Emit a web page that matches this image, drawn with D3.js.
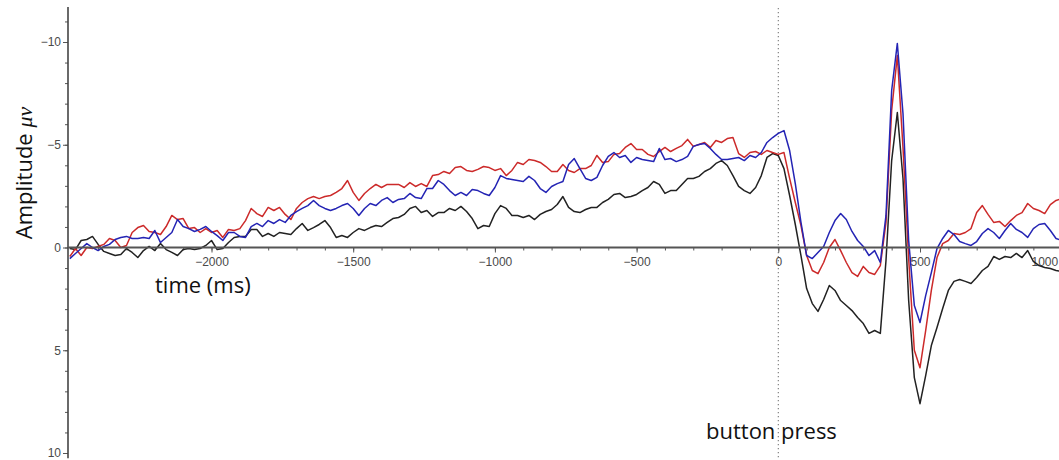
<!DOCTYPE html>
<html>
<head>
<meta charset="utf-8">
<script src="https://cdn.jsdelivr.net/npm/d3@7"></script>
<style>
  html, body { margin: 0; padding: 0; background: #fff; }
  svg { display: block; }
</style>
</head>
<body>
<svg id="chart" width="1059" height="460"></svg>
<script>
// Sample times (ms) relative to the button press, one sample every 20 ms
const times = d3.range(-2500, 1001, 20);

// Averaged amplitudes (µV) for the three conditions
const redSeries = [
  0.44, 0.05, 0.39, 0, 0.05, -0.05, -0.15, -0.44, -0.34, 0,
  -0.10, -0.73, -0.97, -1.07, -0.78, -0.73, -0.63, -1.02, -1.56, -1.36,
  -1.41, -0.92, -0.97, -0.73, -0.92, -0.73, -0.83, -0.49, -0.88, -0.83,
  -0.92, -1.31, -1.90, -1.65, -1.51, -1.95, -1.80, -1.95, -1.61, -1.36,
  -1.90, -2.19, -2.38, -2.48, -2.38, -2.48, -2.53, -2.68, -2.87, -3.26,
  -2.68, -2.29, -2.63, -2.87, -3.07, -2.92, -3.07, -3.07, -3.07, -2.92,
  -3.16, -2.97, -3.11, -2.97, -3.50, -3.55, -3.70, -3.60, -3.89, -3.94,
  -3.75, -3.70, -3.80, -3.94, -3.89, -3.75, -3.84, -3.50, -3.75, -4.14,
  -4.04, -4.28, -4.23, -4.14, -3.94, -3.70, -3.70, -4.04, -3.75, -3.65,
  -3.84, -3.84, -3.99, -4.48, -4.14, -4.18, -4.53, -4.57, -4.87, -5.06,
  -4.77, -4.77, -4.53, -4.43, -4.67, -4.87, -4.67, -4.82, -4.96, -5.26,
  -4.92, -5.01, -5.11, -4.87, -5.21, -5.11, -5.30, -5.35, -4.57, -4.38,
  -4.62, -4.67, -4.53, -4.72, -4.62, -4.53, -4.62, -3.36, -2.19, -1.07,
  0.39, 1.12, 1.27, 0.73, 0, -0.39, 0.15, 0.73, 1.22, 1.41,
  0.92, 1.22, 1.31, 0.88, -1.22, -6.67, -9.34, -4.87, 0.54, 5.00,
  5.85, 4.04, 2.09, 0.49, -0.19, -0.34, -0.68, -0.63, -0.73, -0.92,
  -1.70, -2.04, -1.61, -1.22, -1.27, -1.02, -1.31, -1.56, -1.70, -2.14,
  -1.90, -1.80, -1.65, -2.09, -2.29, -2.38
];

const blueSeries = [
  0.54, 0.29, 0.05, -0.19, 0, 0.15, -0.05, -0.15, -0.39, -0.49,
  -0.54, -0.44, -0.44, -0.49, -0.44, -0.83, -0.24, -0.49, -0.73, -1.36,
  -1.02, -0.92, -0.78, -0.88, -1.02, -0.78, -0.58, -0.34, -0.73, -0.73,
  -0.54, -0.49, -1.02, -1.17, -1.02, -1.31, -1.17, -1.36, -1.22, -1.56,
  -1.75, -1.90, -2.04, -2.29, -2.04, -1.90, -1.80, -1.90, -2.04, -2.14,
  -1.90, -1.56, -1.90, -2.14, -2.04, -2.29, -2.43, -2.19, -2.34, -2.38,
  -2.63, -2.43, -2.38, -2.87, -2.87, -3.26, -3.07, -2.77, -2.53, -2.68,
  -2.53, -2.82, -2.77, -2.63, -2.53, -2.92, -3.50, -3.36, -3.31, -3.26,
  -3.21, -3.46, -3.26, -2.87, -2.68, -2.97, -3.11, -3.21, -4.04, -4.33,
  -3.84, -3.36, -3.26, -3.41, -3.99, -4.43, -4.62, -4.38, -4.48, -4.14,
  -4.38, -4.28, -4.23, -4.18, -4.82, -4.28, -4.33, -4.18, -4.28, -4.43,
  -4.92, -5.01, -5.06, -4.82, -4.53, -4.28, -4.28, -4.33, -4.38, -4.23,
  -4.48, -4.38, -4.62, -5.11, -5.35, -5.55, -5.69, -4.72, -3.11, -1.22,
  0.39, 0.54, 0.24, -0.05, -0.73, -1.31, -1.65, -1.36, -0.78, -0.34,
  -0.05, 0.39, 0.15, 0.73, -1.56, -7.64, -9.93, -6.52, -0.34, 2.82,
  3.65, 2.34, 1.22, 0.05, -0.44, -0.83, -0.63, -0.29, -0.19, -0.10,
  -0.29, -0.68, -0.92, -0.73, -0.44, -0.83, -1.17, -0.88, -0.73, -0.49,
  -0.92, -1.12, -1.17, -0.83, -0.44, -0.34
];

const blackSeries = [
  0.05, 0.10, -0.34, -0.39, -0.54, -0.15, 0.19, 0.29, 0.39, 0.34,
  0.05, 0.24, 0.49, 0.15, -0.05, 0.15, -0.19, 0.10, 0.24, 0.39,
  0.10, 0.05, 0.10, 0.05, -0.10, -0.34, 0.10, 0.05, -0.24, -0.49,
  -0.54, -0.54, -0.88, -0.88, -0.54, -0.68, -0.54, -0.73, -0.68, -0.63,
  -0.92, -1.17, -0.83, -0.97, -1.12, -1.31, -0.97, -0.49, -0.58, -0.49,
  -0.73, -0.92, -0.83, -0.97, -1.07, -1.02, -1.22, -1.41, -1.46, -1.61,
  -1.90, -2.00, -1.70, -1.80, -1.51, -1.70, -1.70, -1.90, -1.80, -2.00,
  -1.75, -1.41, -0.92, -1.07, -1.02, -1.65, -2.04, -1.90, -1.56, -1.56,
  -1.46, -1.56, -1.36, -1.61, -1.75, -1.85, -2.09, -2.48, -1.95, -1.75,
  -1.70, -1.85, -1.95, -1.95, -2.19, -2.34, -2.58, -2.63, -2.43, -2.48,
  -2.58, -2.77, -2.92, -3.21, -3.07, -2.63, -2.77, -2.77, -3.07, -3.36,
  -3.36, -3.46, -3.70, -3.84, -4.09, -4.23, -3.99, -3.50, -2.97, -2.77,
  -2.63, -2.92, -3.50, -4.38, -4.57, -4.48, -3.84, -2.53, -1.12, 0.39,
  2.00, 2.73, 3.11, 2.53, 1.85, 2.09, 2.58, 2.82, 3.07, 3.41,
  3.70, 4.18, 4.04, 4.18, 0.63, -4.23, -6.57, -3.36, 2.58, 6.33,
  7.60, 6.23, 4.77, 3.89, 2.97, 2.09, 1.65, 1.56, 1.65, 1.75,
  1.46, 1.12, 0.92, 0.44, 0.58, 0.44, 0.49, 0.29, 0.49, 0.15,
  0.68, 0.88, 0.97, 1.02, 1.12, 1.17
];

// Axis ticks
const xMajorTicks = [-2000, -1500, -1000, -500, 0, 500, 1000];
const xMinorTicks = d3.range(-2400, 1001, 100);
const yMajorTicks = [-10, -5, 0, 5, 10];
const yMinorTicks = d3.range(-11, 11, 1);

const svg = d3.select("#chart");

// Time axis; negative amplitudes are plotted upward
const x = d3.scaleLinear().domain([-2000, 500]).range([211.5, 920.0]);
const y = d3.scaleLinear().domain([-10, 10]).range([42, 453]);
const axisX = 68;

// Vertical dotted marker at the button press
svg.append("line")
  .attr("x1", x(0)).attr("x2", x(0))
  .attr("y1", 8).attr("y2", 460)
  .attr("stroke", "#777").attr("stroke-width", 1.1)
  .attr("stroke-dasharray", "1.2,2.8");

// Y axis
const gy = svg.append("g").attr("transform", `translate(${axisX},0)`);
gy.call(d3.axisLeft(y).tickValues(yMinorTicks).tickSize(3).tickFormat(""));
gy.call(g => g.select(".domain").remove());
const gyMajor = svg.append("g").attr("transform", `translate(${axisX},0)`)
  .call(d3.axisLeft(y).tickValues(yMajorTicks).tickSize(5).tickPadding(2).tickFormat(d3.format("d")));
gyMajor.select(".domain").remove();
svg.selectAll("g .tick line").attr("stroke", "#555");
gyMajor.selectAll("text")
  .attr("font-family", "Liberation Sans, Arial, sans-serif")
  .attr("font-size", 12).attr("fill", "#4a4a4a");
svg.append("line")
  .attr("x1", axisX).attr("x2", axisX)
  .attr("y1", y(-11.7)).attr("y2", y(10.25))
  .attr("stroke", "#444").attr("stroke-width", 1.6);

// X axis along the zero line
const gx = svg.append("g").attr("transform", `translate(0,${y(0)})`);
gx.call(d3.axisBottom(x).tickValues(xMinorTicks).tickSize(3).tickFormat(""));
gx.select(".domain").remove();
const gxMajor = svg.append("g").attr("transform", `translate(0,${y(0)})`)
  .call(d3.axisBottom(x).tickValues(xMajorTicks).tickSize(5).tickPadding(5).tickFormat(d3.format("d")));
gxMajor.select(".domain").remove();
svg.selectAll("g .tick line").attr("stroke", "#555");
gxMajor.selectAll("text")
  .attr("font-family", "Liberation Sans, Arial, sans-serif")
  .attr("font-size", 12).attr("fill", "#4a4a4a");
// The last label sits at the right edge, so it is aligned to end inside the frame
gxMajor.selectAll(".tick").filter(d => d === 1000).select("text")
  .attr("text-anchor", "end").attr("dx", "-4");

// Traces
const line = d3.line()
  .x((d, i) => x(times[i]))
  .y(d => y(d));

const traces = [
  { values: blackSeries, color: "#222222" },
  { values: redSeries, color: "#cc2a2a" },
  { values: blueSeries, color: "#2424b4" }
];
svg.append("g").selectAll("path")
  .data(traces)
  .join("path")
  .attr("d", d => line(d.values))
  .attr("fill", "none")
  .attr("stroke", d => d.color)
  .attr("stroke-width", 1.5)
  .attr("stroke-linejoin", "round");

// Zero line drawn over the traces
svg.append("line")
  .attr("x1", axisX).attr("x2", 1059)
  .attr("y1", y(0)).attr("y2", y(0))
  .attr("stroke", "#555").attr("stroke-width", 1.8);

// Titles
const amp = svg.append("text")
  .attr("transform", "translate(32,173) rotate(-90)")
  .attr("text-anchor", "middle")
  .attr("font-family", "Open Sans, sans-serif")
  .attr("font-size", 22)
  .attr("fill", "#111");
amp.append("tspan").text("Amplitude ");
amp.append("tspan")
  .attr("font-family", "Liberation Serif, serif")
  .attr("font-style", "italic")
  .text("μv");

svg.append("text")
  .attr("x", 155).attr("y", 293)
  .attr("font-family", "Open Sans, sans-serif")
  .attr("font-size", 22)
  .attr("fill", "#111")
  .text("time (ms)");

svg.append("text")
  .attr("x", 706).attr("y", 439)
  .attr("font-family", "Open Sans, sans-serif")
  .attr("font-size", 22)
  .attr("fill", "#111")
  .text("button press");
</script>
</body>
</html>
